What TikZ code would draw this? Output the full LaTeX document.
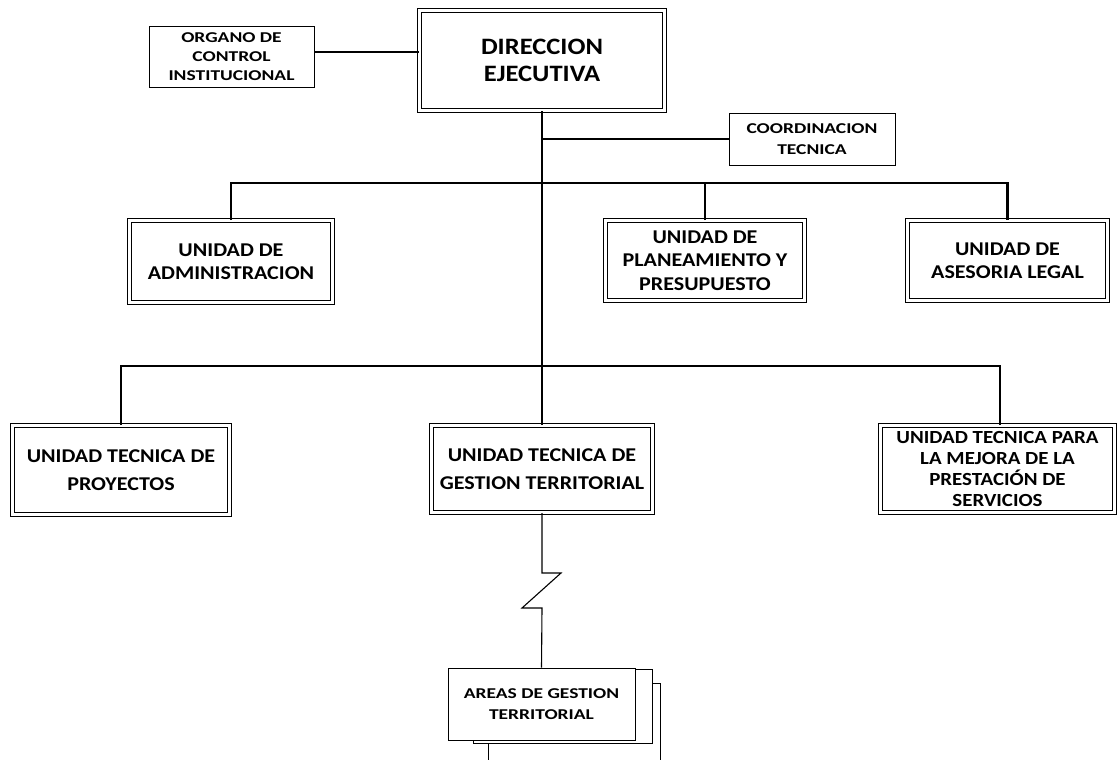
\documentclass[tikz,border=0pt]{standalone}
\usepackage{fontspec}
\newfontfamily\orgfont[FakeStretch=1.13]{Carlito}
\newfontfamily\orgsmallfont[FakeStretch=1.3]{Carlito}
\usetikzlibrary{calc}

\begin{document}
\begin{tikzpicture}[x=1pt, y=-1pt,
  unit/.style={draw, double, double distance=3.5pt, line width=1pt, fill=white,
    align=center, inner sep=0pt,
    font={\orgfont\bfseries\fontsize{19.5}{23.5}\selectfont}},
  plain/.style={draw, line width=1pt, fill=white, align=center, inner sep=0pt,
    font={\orgsmallfont\bfseries\fontsize{15}{19}\selectfont}},
  link/.style={line width=2.9pt}]
  \useasboundingbox (0,0) rectangle (1119,760);

  % top level
  \node[plain, minimum width=165pt, minimum height=60pt] (organo) at (231.5,57)
    {ORGANO DE\\CONTROL\\INSTITUCIONAL};
  \node[unit, minimum width=245pt, minimum height=100pt,
    font={\orgfont\bfseries\fontsize{23.5}{27}\selectfont}] (direccion) at (542,60.5)
    {DIRECCION\\EJECUTIVA};
  \node[plain, minimum width=166pt, minimum height=52pt] (coordinacion) at (812,139)
    {COORDINACION\\[2pt]TECNICA};

  % support units
  \node[unit, minimum width=203pt, minimum height=82pt] (admin) at (231,261.5)
    {UNIDAD DE\\ADMINISTRACION};
  \node[unit, minimum width=199pt, minimum height=80pt] (planeamiento) at (705,260.5)
    {UNIDAD DE\\PLANEAMIENTO Y\\PRESUPUESTO};
  \node[unit, minimum width=200pt, minimum height=80pt] (legal) at (1007.5,260.5)
    {UNIDAD DE\\ASESORIA LEGAL};

  % technical units
  \node[unit, minimum width=217pt, minimum height=89pt] (proyectos) at (121,470)
    {UNIDAD TECNICA DE\\[5pt]PROYECTOS};
  \node[unit, minimum width=221pt, minimum height=87pt] (gestion) at (542,469)
    {UNIDAD TECNICA DE\\[5pt]GESTION TERRITORIAL};
  \node[unit, minimum width=234pt, minimum height=87pt,
    font={\orgfont\bfseries\fontsize{18.5}{21}\selectfont}] (mejora) at (997.5,469)
    {UNIDAD TECNICA PARA\\LA MEJORA DE LA\\PRESTACIÓN DE\\SERVICIOS};

  % stacked areas
  \node[plain, minimum width=172pt, minimum height=77pt] (areasb) at (574,721.5) {};
  \node[plain, minimum width=179pt, minimum height=74pt] (areasa) at (562.5,706) {};
  \node[plain, minimum width=187pt, minimum height=72pt] (areas) at (541.5,704)
    {AREAS DE GESTION\\[2pt]TERRITORIAL};

  \coordinate (bus1) at (542,183);
  \coordinate (bus2) at (542,366);

  \draw[link] ([yshift=5pt]organo.east) -- ([yshift=5pt]organo.east -| direccion.west);
  \draw[link] (direccion.south) -- (gestion.north);
  \draw[link] (direccion.south |- coordinacion.west) -- (coordinacion.west);
  \draw[link] (admin.north) |- (bus1) -| (legal.north);
  \draw[link] (planeamiento.north) -- (planeamiento.north |- bus1);
  \draw[link] (proyectos.north) |- (bus2) -| ([xshift=2.5pt]mejora.north);
  %\draw[link] (gestion.south) -- (areas.north);
  \draw[line width=1.1pt] (gestion.south) -- ++(0,60) -- ++(19,0) -- ++(-39,35)
    -- ++(20,0) -- (areas.north);
\end{tikzpicture}
\end{document}
